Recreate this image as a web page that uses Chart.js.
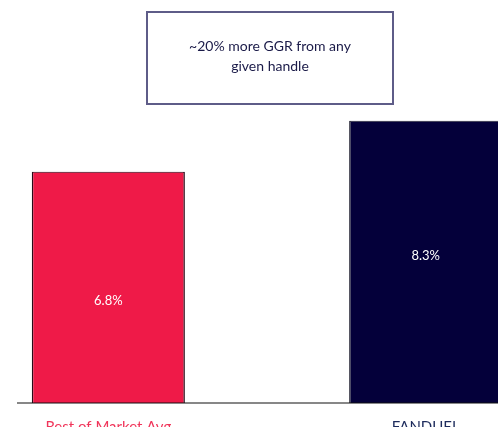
<!DOCTYPE html>
<html>
<head>
<meta charset="utf-8">
<script src="https://cdn.jsdelivr.net/npm/chart.js@4.4.0/dist/chart.umd.min.js"></script>
<style>
  html, body { margin: 0; padding: 0; background: #fff; overflow: hidden; }
  .wrap { position: relative; width: 520px; height: 450px; }
  .note {
    position: absolute; left: 146px; top: 11px; width: 244px; height: 90px;
    border: 2px solid #5e5c88; box-sizing: content-box;
    font-family: Lato, "Open Sans", sans-serif; font-size: 14px; color: #1a1a48;
    text-align: center; line-height: 20px;
  }
  .note span { display: block; margin-top: 23px; }
</style>
</head>
<body>
<div class="wrap">
  <canvas id="chartGgr" width="520" height="450"></canvas>
  <div class="note"><span>~20% more GGR from any<br>given handle</span></div>
</div>
<script>
// data
const categories = ['Rest of Market Avg', '', 'FANDUEL'];
const ggrValues = [6.8, null, 8.3];
const valueLabels = ['6.8%', '', '8.3%'];

const barColors = ['#ef1a48', '#ffffff', '#04003a'];
const tickColors = ['#f0355a', '#ffffff', '#1d2b5c'];

// white value text inside each bar
const valueLabelPlugin = {
  id: 'valueLabels',
  afterDatasetsDraw(chart) {
    const ctx = chart.ctx;
    const meta = chart.getDatasetMeta(0);
    const offsets = [13, 0, -6];
    ctx.save();
    ctx.fillStyle = '#ffffff';
    ctx.font = '13px Lato, "Open Sans", sans-serif';
    ctx.textAlign = 'center';
    ctx.textBaseline = 'middle';
    meta.data.forEach((bar, i) => {
      if (!valueLabels[i]) return;
      const mid = (bar.y + bar.base) / 2;
      ctx.fillText(valueLabels[i], bar.x, mid + offsets[i]);
    });
    ctx.restore();
  }
};

// baseline runs a bit further left than the plot area
const baselinePlugin = {
  id: 'baseline',
  afterDatasetsDraw(chart) {
    const ctx = chart.ctx;
    const y = chart.scales.y.getPixelForValue(0);
    ctx.save();
    ctx.strokeStyle = '#111111';
    ctx.lineWidth = 1.2;
    ctx.beginPath();
    ctx.moveTo(17, y);
    ctx.lineTo(chart.width, y);
    ctx.stroke();
    ctx.restore();
  }
};

const ctx = document.getElementById('chartGgr').getContext('2d');
new Chart(ctx, {
  type: 'bar',
  data: {
    labels: categories,
    datasets: [{
      data: ggrValues,
      backgroundColor: barColors,
      borderColor: ['#2a0a18', '#ffffff', '#2a2a3a'],
      borderWidth: { left: 1.5, right: 1.5, top: 1, bottom: 0 },
      borderSkipped: false,
      barPercentage: 0.965,
      categoryPercentage: 1
    }]
  },
  options: {
    responsive: false,
    animation: false,
    layout: { padding: { left: 29, right: 15, top: 63, bottom: 0 } },
    plugins: { legend: { display: false }, tooltip: { enabled: false } },
    scales: {
      x: {
        grid: { display: false },
        border: { display: false },
        afterFit: (s) => { s.height = 47; },
        ticks: {
          color: tickColors,
          padding: 7,
          maxRotation: 0,
          font: { family: 'Lato, "Open Sans", sans-serif', size: 15 }
        }
      },
      y: {
        display: false,
        min: 0,
        max: 10
      }
    }
  },
  plugins: [valueLabelPlugin, baselinePlugin]
});
</script>
</body>
</html>
